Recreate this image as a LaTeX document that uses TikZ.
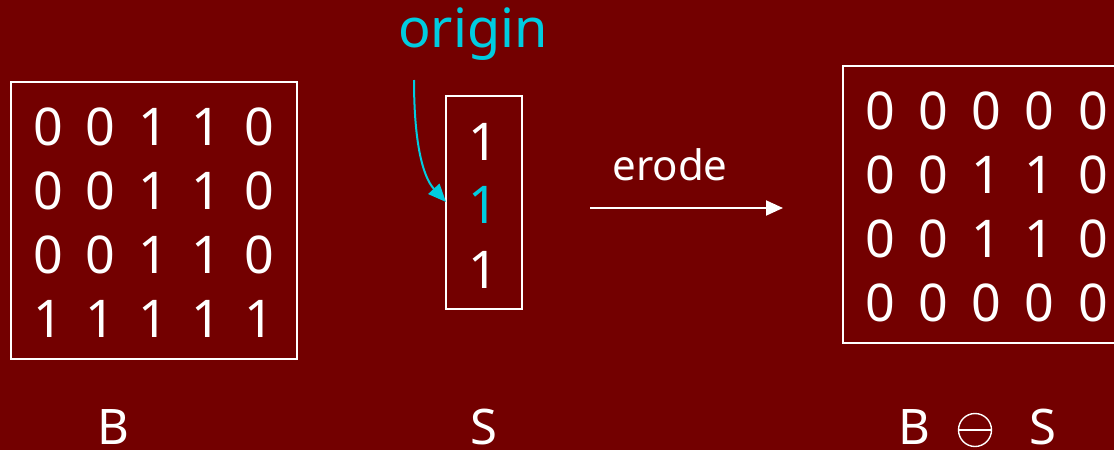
\documentclass[tikz,border=0pt]{standalone}
\usepackage{fontspec}
\setmainfont{Noto Sans}
\usetikzlibrary{arrows.meta}
\definecolor{bg}{RGB}{115,0,0}
\definecolor{hilite}{RGB}{0,204,224}
\begin{document}
\begin{tikzpicture}[x=1pt,y=-1pt,
  digit/.style={text=white,font=\fontsize{52}{60}\selectfont,anchor=base,inner sep=0pt},
  label/.style={text=white,font=\fontsize{49}{58}\selectfont,anchor=base,inner sep=0pt},
  frame/.style={draw=white,line width=1.8pt,inner sep=0pt},
  link/.style={line width=2pt}
]
% canvas
\useasboundingbox (0,0) rectangle (1114,450);
\clip (0,0) rectangle (1114,450);
\fill[bg] (0,0) rectangle (1114,450);

% input image B
\node[frame,minimum width=286pt,minimum height=277pt] (Bbox) at (154,220.5) {};
\foreach \row [count=\r] in {{0,0,1,1,0},{0,0,1,1,0},{0,0,1,1,0},{1,1,1,1,1}} {
  \foreach \v [count=\c] in \row {
    \node[digit] (b-\r-\c) at ({48+52.75*(\c-1)},{145+64.3*(\r-1)}) {\v};
  }
}
\node[label] (Blab) at (113,444) {B};

% structuring element S
\node[frame,minimum width=76pt,minimum height=213pt] (Sbox) at (484,202.5) {};
\node[digit] (s-1) at (483,160) {1};
\node[digit,text=hilite] (s-2) at (483,223) {1};
\node[digit] (s-3) at (483,288) {1};
\node[label] (Slab) at (484,444) {S};

% origin marker
\node[text=hilite,font=\fontsize{54}{62}\selectfont,anchor=base,inner sep=0pt] (origin) at (473,47) {origin};
\coordinate (ostart) at (414,80);
\coordinate (otip) at (446,202);
\draw[hilite,link,-{Triangle[length=18pt,width=15pt]}] (ostart) .. controls (414,140) and (422,176) .. (otip);

% erosion arrow
\coordinate (e1) at (590,208);
\coordinate (e2) at (783,208);
\draw[white,link,-{Triangle[length=17pt,width=15pt]}] (e1) -- (e2);
\node[text=white,font=\fontsize{42}{50}\selectfont,anchor=base,inner sep=0pt] (erode) at (670,180) {erode};

% result B erode S
\node[frame,minimum width=300pt,minimum height=277pt] (Rbox) at (993,204.5) {};
\foreach \row [count=\r] in {{0,0,0,0,0},{0,0,1,1,0},{0,0,1,1,0},{0,0,0,0,0}} {
  \foreach \v [count=\c] in \row {
    \node[digit] (r-\r-\c) at ({880+53.25*(\c-1)},{129+64.3*(\r-1)}) {\v};
  }
}
\node[label] (RB) at (914,444) {B};
\node[circle,draw=white,line width=1.4pt,minimum size=33pt,inner sep=0pt] (Rop) at (975,430) {};
\draw[white,line width=1.4pt] (Rop.west) -- (Rop.east);
\node[label] (RS) at (1043,444) {S};
\end{tikzpicture}
\end{document}
